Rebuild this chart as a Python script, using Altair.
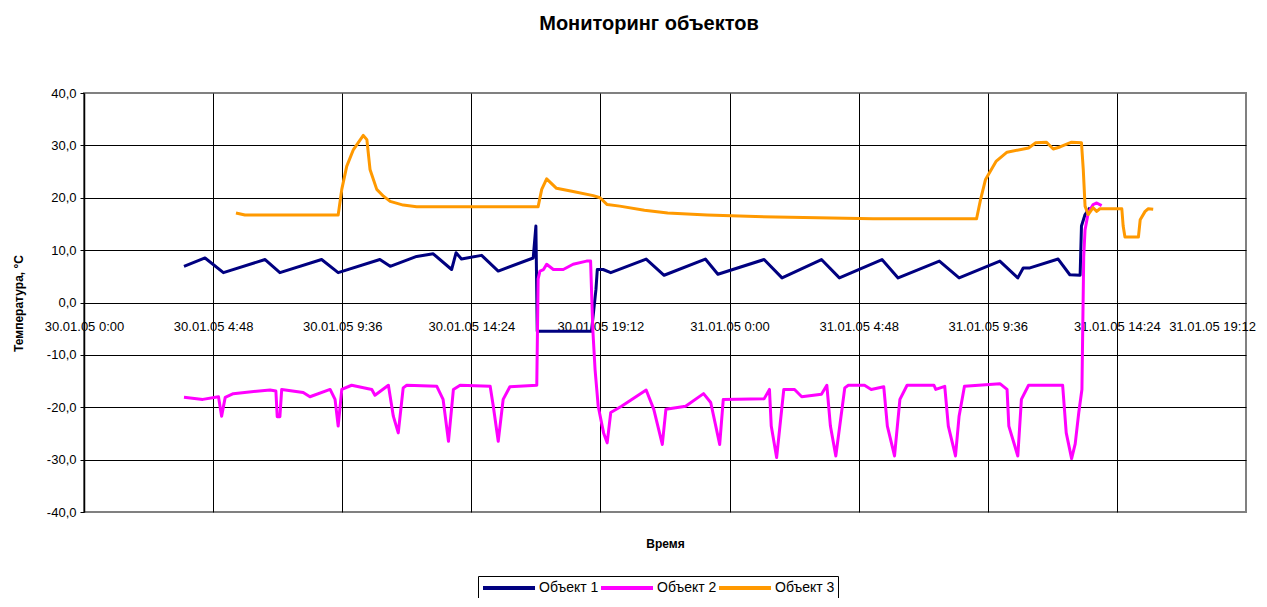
import altair as alt
import pandas as pd

FONT = "Liberation Sans"

series_names = ["Объект 1", "Объект 2", "Объект 3"]
series_colors = ["#000080", "#FF00FF", "#FF9900"]

# x ticks: minutes since 30.01.05 0:00, every 4:48
tick_minutes = [0, 288, 576, 864, 1152, 1440, 1728, 2016, 2304, 2592]
tick_labels = ["30.01.05 0:00", "30.01.05 4:48", "30.01.05 9:36", "30.01.05 14:24",
               "30.01.05 19:12", "31.01.05 0:00", "31.01.05 4:48", "31.01.05 9:36",
               "31.01.05 14:24", "31.01.05 19:12"]
y_ticks = [-40, -30, -20, -10, 0, 10, 20, 30, 40]

# Объект 1 (minutes since start, temperature)
obj1_min = [223, 270, 311, 404, 437, 530, 567, 660, 683, 742, 779, 820, 830, 842, 887, 924,
            1002, 1008, 1011, 1132, 1142, 1145, 1158, 1175, 1254, 1294, 1386, 1414, 1517,
            1557, 1645, 1685, 1780, 1816, 1908, 1952, 2043, 2083, 2095, 2110, 2173, 2199,
            2222, 2225, 2233, 2244]
obj1_val = [6.9, 8.5, 5.7, 8.2, 5.7, 8.2, 5.7, 8.2, 6.9, 8.8, 9.3, 6.3, 9.5, 8.3, 9.0, 6.0,
            8.5, 14.6, -5.5, -5.5, 2.5, 6.3, 6.3, 5.7, 8.3, 5.2, 8.3, 5.4, 8.2,
            4.7, 8.2, 4.7, 8.2, 4.7, 7.9, 4.7, 7.9, 4.7, 6.6, 6.6, 8.3, 5.3,
            5.2, 14.6, 16.8, 18.1]

# Объект 2
obj2_min = [223, 265, 300, 307, 315, 333, 415, 428, 431, 437, 441, 489, 504, 549, 560, 567,
            575, 597, 642, 649, 679, 690, 701, 712, 720, 787, 801, 813, 824, 839, 906, 913,
            924, 935, 950, 1010, 1013, 1017, 1025, 1032, 1047, 1069, 1091, 1121, 1130, 1135,
            1140, 1147, 1159, 1167, 1175, 1199, 1254, 1271, 1290, 1298, 1342, 1382, 1398,
            1418, 1426, 1517, 1529, 1533, 1545, 1561, 1585, 1601, 1645, 1657, 1665, 1677,
            1697, 1705, 1741, 1756, 1784, 1792, 1808, 1820, 1836, 1896, 1900, 1920, 1928,
            1944, 1952, 1964, 2043, 2059, 2063, 2083, 2091, 2107, 2183, 2191, 2203, 2211,
            2219, 2226, 2230, 2233, 2240, 2251, 2259, 2270]
obj2_val = [-18.1, -18.5, -18.0, -21.7, -18.1, -17.4, -16.7, -16.9, -21.8, -21.8, -16.6, -17.2,
            -18.0, -16.6, -18.5, -23.6, -16.6, -15.8, -16.6, -17.7, -15.8, -21.7, -24.9, -16.3,
            -15.8, -16.0, -18.5, -26.5, -16.6, -15.8, -16.0, -19.8, -26.5, -18.5, -16.1, -15.8,
            4.5, 6.0, 6.3, 7.3, 6.3, 6.3, 7.3, 7.9, 7.9, -5.2, -12.8, -19.8, -24.9, -26.8,
            -21.0, -19.8, -16.7, -20.4, -27.1, -20.4, -19.8, -17.4, -19.1, -27.1, -18.5, -18.4,
            -16.6, -23.6, -29.6, -16.6, -16.6, -18.0, -17.5, -15.8, -23.6, -29.3, -16.3, -15.8,
            -15.8, -16.6, -16.1, -23.6, -29.3, -18.5, -15.8, -15.8, -16.6, -16.0, -23.6, -29.3,
            -21.7, -16.0, -15.5, -16.6, -23.6, -29.3, -18.5, -15.8, -15.8, -24.9, -29.8, -27.0,
            -21.0, -16.6, 8.8, 13.9, 17.1, 18.7, 19.0, 18.5]

# Объект 3
obj3_min = [339, 359, 567, 575, 586, 601, 623, 631, 638, 653, 668, 683, 712, 742, 1013, 1021,
            1032, 1054, 1091, 1136, 1151, 1167, 1195, 1250, 1302, 1390, 1498, 1760, 1991,
            2000, 2011, 2035, 2059, 2107, 2123, 2147, 2162, 2177, 2203, 2225, 2229, 2233,
            2240, 2251, 2259, 2266, 2315, 2318, 2322, 2352, 2356, 2367, 2374, 2385]
obj3_val = [17.1, 16.7, 16.7, 21.6, 26.0, 29.2, 31.9, 31.1, 25.4, 21.6, 20.3, 19.3, 18.6, 18.3,
            18.3, 21.6, 23.6, 21.8, 21.2, 20.4, 20.0, 18.7, 18.4, 17.6, 17.1, 16.7, 16.4, 16.0,
            16.0, 19.7, 23.5, 27.0, 28.7, 29.5, 30.5, 30.6, 29.3, 29.7, 30.6, 30.5, 25.4, 18.4,
            16.8, 18.1, 17.4, 17.9, 17.9, 14.6, 12.5, 12.5, 15.8, 17.4, 17.9, 17.8]

rows = []
for name, mins, vals in zip(series_names, [obj1_min, obj2_min, obj3_min],
                            [obj1_val, obj2_val, obj3_val]):
    for i, (m, v) in enumerate(zip(mins, vals)):
        rows.append({"series": name, "minute": m, "temp": v, "idx": i})
df = pd.DataFrame(rows)

label_array = "[" + ",".join("'" + s + "'" for s in tick_labels) + "]"

x_axis = alt.Axis(
    values=tick_minutes,
    labelExpr=label_array + "[round(datum.value / 288)]",
    offset=-209,
    grid=True,
    gridColor={"condition": {"test": "datum.value == 0 || datum.value == 2592",
                             "value": "transparent"}, "value": "#000000"},
    gridWidth=1,
    domain=True, domainColor="#000000", domainWidth=1,
    ticks=False,
    labelPadding=17,
    labelFlush=False,
    labelOffset={"condition": {"test": "datum.value == 2592", "value": -34}, "value": 0},
    labelFont=FONT, labelFontSize=13, labelColor="#000000",
    labelOverlap=False,
    title="Время", titleFont=FONT, titleFontSize=12, titleFontWeight="bold",
    titleColor="#000000", titleX=581, titleY=240, titleBaseline="middle",
    titleAlign="center",
)

y_axis = alt.Axis(
    values=y_ticks,
    labelExpr="datum.value + ',0'",
    grid=True,
    gridColor={"condition": {"test": "datum.value == 40 || datum.value == -40",
                             "value": "transparent"}, "value": "#000000"},
    gridWidth=1,
    domain=True, domainColor="#000000", domainWidth=1.5,
    ticks=True, tickSize=4, tickColor="#000000",
    labelPadding=4,
    labelFlush=False,
    labelFont=FONT, labelFontSize=13, labelColor="#000000",
    title="Температура, °C", titleFont=FONT, titleFontSize=12, titleFontWeight="bold",
    titleColor="#000000", titleX=-66, titleY=210, titleAngle=-90,
    titleBaseline="middle", titleAlign="center",
)

# legend symbol: a 52px-wide horizontal stroke inside a 14px symbol box
legend = alt.Legend(
    orient="none", legendX=394, legendY=483, direction="horizontal", title=None,
    symbolType="M-1,0H6.43", symbolSize=196, symbolStrokeWidth=4,
    labelFont=FONT, labelFontSize=14, labelColor="#000000", labelOffset=40,
    columnPadding=-6, padding=3, fillColor="white", strokeColor="#000000",
)

chart = alt.Chart(df).mark_line(strokeWidth=3, strokeJoin="round").encode(
    x=alt.X("minute:Q", scale=alt.Scale(domain=[0, 2592], nice=False, zero=False), axis=x_axis),
    y=alt.Y("temp:Q", scale=alt.Scale(domain=[-40, 40], nice=False), axis=y_axis),
    color=alt.Color("series:N", scale=alt.Scale(domain=series_names, range=series_colors),
                    legend=legend),
    order=alt.Order("idx:Q"),
).properties(
    width=1162, height=419,
    autosize=alt.AutoSizeParams(type="none"),
    padding={"left": 76, "top": 85, "right": 13, "bottom": 86},
    title=alt.Title("Мониторинг объектов", font=FONT, fontSize=20, fontWeight="bold",
                    color="#000000", anchor="middle", frame="group", dx=-16, offset=53),
).configure_view(
    stroke="#808080", strokeWidth=2
)

chart.save("out.html", embed_options={"renderer": "svg", "actions": False})
